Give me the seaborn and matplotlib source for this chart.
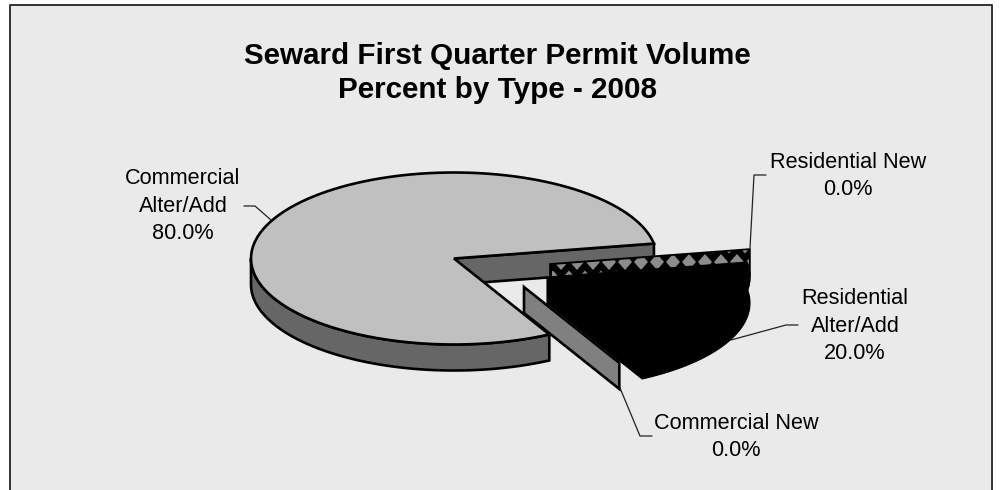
import numpy as np
import matplotlib
matplotlib.use('Agg')
import matplotlib.pyplot as plt
from matplotlib.patches import Polygon
import seaborn as sns

# Chart values, counter-clockwise from the start angle
categories = ['Commercial\nAlter/Add', 'Commercial New', 'Residential\nAlter/Add', 'Residential New']
percents = [80.0, 0.0, 20.0, 0.0]
title_lines = ['Seward First Quarter Permit Volume', 'Percent by Type - 2008']

sns.set_theme(style='white')
plt.rcParams['font.family'] = ['Liberation Sans', 'DejaVu Sans']

# pie geometry, in pixels
start_angle = 10
rx, ry = 203, 86
depth = 26
edge_lw = 1.9
apex = {'Commercial\nAlter/Add': (454, 258.5), 'Commercial New': (524, 287),
        'Residential\nAlter/Add': (547, 277), 'Residential New': (550, 264)}
leaders = {'Commercial\nAlter/Add': [(244, 206), (255, 206), (271, 220)],
           'Commercial New': [(620, 388), (640, 436), (652, 436)],
           'Residential\nAlter/Add': [(731, 340), (786, 325), (798, 325)],
           'Residential New': [(750, 248), (754, 175), (766, 175)]}
label_pos = {'Commercial\nAlter/Add': (183, 206), 'Commercial New': (736, 437),
             'Residential\nAlter/Add': (855, 326), 'Residential New': (848, 176)}

fig = plt.figure(figsize=(10.01, 4.9), dpi=100, facecolor='white')
ax = fig.add_axes([0, 0, 1, 1])
ax.set_xlim(0, 1001)
ax.set_ylim(490, 0)
ax.axis('off')

# chart area, open at the bottom
ax.fill([9.5, 992, 992, 9.5], [5.5, 5.5, 490, 490], color='#EAEAEA', lw=0)
ax.plot([9.5, 9.5, 992, 992], [490, 5.5, 5.5, 490], color='#333333', lw=1.4)


def rim(center, a0, a1, n=120):
    t = np.radians(np.linspace(a0, a1, n))
    return center[0] + rx * np.cos(t), center[1] - ry * np.sin(t)


def radial(center, ang):
    x, y = rim(center, ang, ang, 1)
    return x[0], y[0]


# slice angles from the values
edges = start_angle + np.cumsum([0] + percents) * 3.6
a_main = (edges[0], edges[1])
a_cnew = edges[1]
a_res = (edges[2], edges[3])
a_rnew = edges[3]
name_main, name_cnew, name_res, name_rnew = categories

# main slice: back wall, outer wall, top face
c = apex[name_main]
ex, ey = radial(c, a_main[0])
ax.add_patch(Polygon([c, (ex, ey), (ex, ey + depth), (c[0], c[1] + depth)],
                     fc='#666666', ec='black', lw=edge_lw))
x, y = rim(c, 180, a_main[1])
ax.add_patch(Polygon(np.r_[np.c_[x, y], np.c_[x[::-1], y[::-1] + depth]],
                     fc='#666666', ec='black', lw=edge_lw))
x, y = rim(c, a_main[0], a_main[1])
ax.add_patch(Polygon(np.r_[[c], np.c_[x, y]], fc='#C0C0C0', ec='black', lw=edge_lw))

# Residential New: zero slice, only its patterned wall shows
c = apex[name_rnew]
ex, ey = radial(c, a_rnew)
ax.add_patch(Polygon([c, (ex, ey), (ex, ey + depth), (c[0], c[1] + depth)],
                     fc='black', ec='black', lw=1.2))
clip = Polygon([(c[0] + 2, c[1] + 1), (ex - 1, ey + 1), (ex - 1, ey + depth), (c[0] + 2, c[1] + depth)],
               transform=ax.transData)
for row, yy in enumerate(np.arange(229, 300, 16.5)):
    for xx in np.arange(545 + 8 * (row % 2), 770, 16):
        d = ax.fill([xx - 7, xx, xx + 7, xx], [yy, yy - 8, yy, yy + 8], color='#8C8C8C', lw=0)[0]
        d.set_clip_path(clip)

# Residential Alter/Add: all black, top face and walls
c = apex[name_res]
x, y = rim(c, a_res[0], a_res[1])
ax.add_patch(Polygon(np.r_[[c], np.c_[x, y]], fc='black', ec='black', lw=0.8))
ax.add_patch(Polygon(np.r_[np.c_[x, y], np.c_[x[::-1], y[::-1] + depth], [(c[0], c[1] + depth)]],
                     fc='black', ec='black', lw=0.8))
ex, ey = radial(c, a_res[0])
ax.add_patch(Polygon([c, (ex, ey), (ex, ey + depth), (c[0], c[1] + depth)], fc='black', ec='black', lw=0.8))

# Commercial New: zero slice, one grey wall
c = apex[name_cnew]
ex, ey = radial(c, a_cnew)
ax.add_patch(Polygon([c, (ex, ey), (ex, ey + depth), (c[0], c[1] + depth)],
                     fc='#808080', ec='black', lw=edge_lw))

# leaders and labels
for name, pct in zip(categories, percents):
    px, py = zip(*leaders[name])
    ax.plot(px, py, color='#222222', lw=0.9)
    lx, ly = label_pos[name]
    ax.text(lx, ly, f'{name}\n{pct:.1f}%', ha='center', va='center', fontsize=15.6,
            color='black', linespacing=1.4)

ax.text(497, 73, '\n'.join(title_lines), ha='center', va='center', fontsize=21.3,
        fontweight='bold', color='black', linespacing=1.27)

fig.savefig('out.png', dpi=100)
